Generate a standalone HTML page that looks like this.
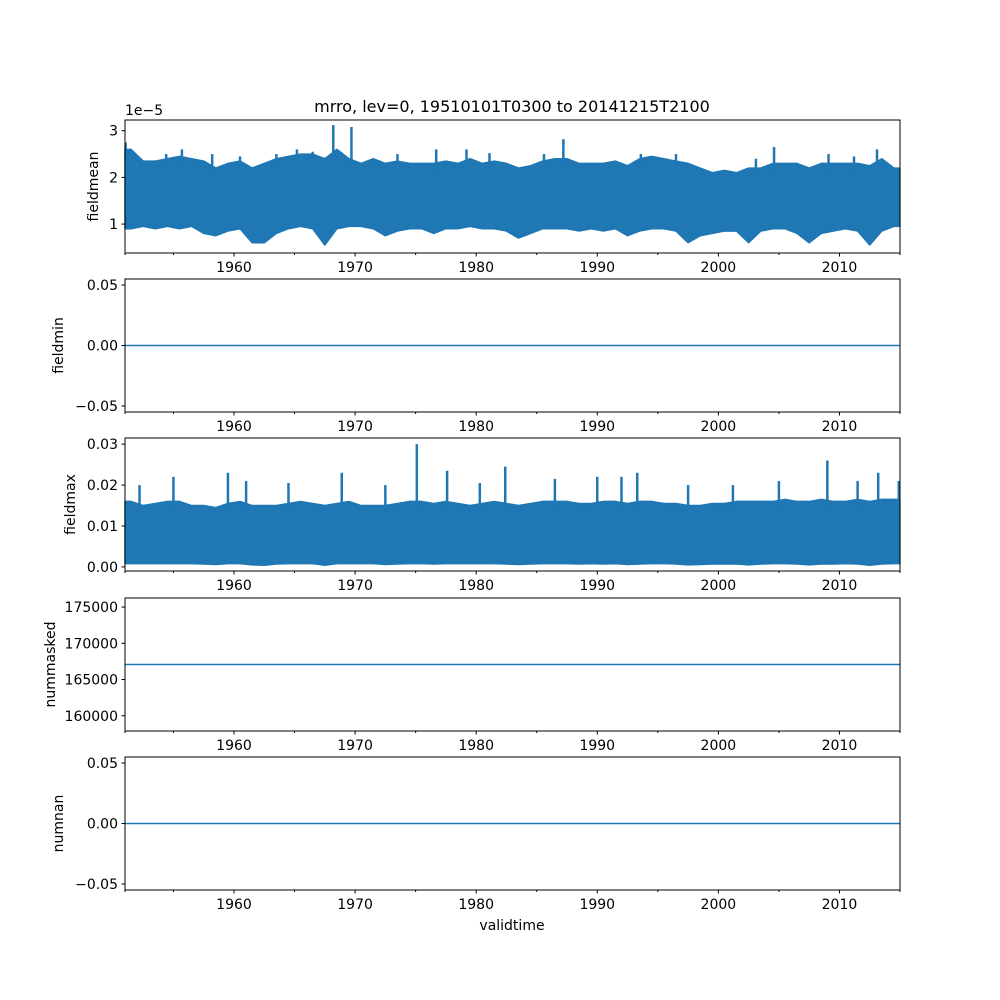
<!DOCTYPE html>
<html><head><meta charset="utf-8"><style>
body{margin:0;background:#fff}
svg{display:block;font-family:"DejaVu Sans","Liberation Sans",sans-serif}
</style></head><body>
<svg id="chart" width="1000" height="1000" viewBox="0 0 1000 1000" xmlns="http://www.w3.org/2000/svg">
<text x="512" y="112" font-size="16" text-anchor="middle">mrro, lev=0, 19510101T0300 to 20141215T2100</text>
<text x="512" y="930" font-size="14" text-anchor="middle">validtime</text>
</svg>
<script>
const years = [];for(let y=1951;y<=2014;y++)years.push(y);
const meanUpper=[2.6,2.35,2.35,2.4,2.45,2.4,2.35,2.2,2.3,2.35,2.2,2.3,2.4,2.45,2.5,2.5,2.4,2.6,2.4,2.3,2.4,2.3,2.35,2.3,2.3,2.3,2.35,2.3,2.4,2.3,2.35,2.3,2.2,2.25,2.35,2.4,2.4,2.3,2.3,2.3,2.35,2.25,2.4,2.45,2.4,2.35,2.3,2.2,2.1,2.15,2.1,2.2,2.2,2.3,2.3,2.3,2.2,2.3,2.3,2.3,2.3,2.25,2.4,2.2];
const meanLower=[0.9,0.95,0.9,0.95,0.9,0.95,0.8,0.75,0.85,0.9,0.6,0.6,0.8,0.9,0.95,0.9,0.55,0.9,0.95,0.95,0.9,0.75,0.85,0.9,0.9,0.8,0.9,0.9,0.95,0.9,0.9,0.85,0.7,0.8,0.9,0.9,0.9,0.85,0.9,0.85,0.9,0.75,0.85,0.9,0.9,0.85,0.6,0.75,0.8,0.85,0.85,0.6,0.85,0.9,0.9,0.8,0.6,0.8,0.85,0.9,0.85,0.55,0.85,0.95];
const meanSpikeX=[1951.05,1954.4,1955.7,1958.2,1960.5,1963.5,1965.2,1966.5,1968.2,1969.7,1973.5,1976.7,1979.2,1981.1,1985.6,1987.2,1993.6,1996.5,2003.1,2004.6,2009.1,2011.2,2013.1];
const meanSpikeY=[2.75,2.5,2.6,2.5,2.45,2.5,2.6,2.55,3.12,3.08,2.5,2.6,2.6,2.52,2.5,2.82,2.5,2.5,2.4,2.65,2.5,2.45,2.6];
const maxUpper=[16,15,15.5,16,16,15,15,14.5,15.5,16,15,15,15,15.5,16,15.5,15,15.5,16,15,15,15,15.5,16,16,15.5,16,15.5,15,15.5,16,15.5,15,15.5,16,16,16,15.5,15.5,16,16,15.5,16,16,15.5,15.5,15,15,15.5,15.5,16,16,16,16,16.5,16,16,16.5,16,16,16.5,16,16.5,16.5];
const maxLower=[0.8,0.8,0.8,0.8,0.8,0.8,0.7,0.6,0.8,0.8,0.5,0.4,0.7,0.8,0.8,0.8,0.4,0.8,0.8,0.8,0.8,0.6,0.7,0.8,0.8,0.7,0.8,0.8,0.8,0.8,0.8,0.7,0.6,0.7,0.8,0.8,0.8,0.7,0.8,0.7,0.8,0.6,0.7,0.8,0.8,0.7,0.5,0.6,0.7,0.7,0.7,0.5,0.7,0.8,0.8,0.7,0.5,0.7,0.7,0.8,0.7,0.4,0.7,0.8];
const maxSpikeX=[1952.2,1955,1959.5,1961,1964.5,1968.9,1972.5,1975.1,1977.6,1980.3,1982.4,1986.5,1990,1992,1993.3,1997.5,2001.2,2005,2009,2011.5,2013.2,2014.9];
const maxSpikeY=[20,22,23,21,20.5,23,20,30,23.5,20.5,24.5,21.5,22,22,23,20,20,21,26,21,23,21];
const fieldminValue=0, nummaskedValue=167083, numnanValue=0;
const xTicks=[1960,1970,1980,1990,2000,2010];
const xMinor=[1955,1965,1975,1985,1995,2005,2015];
const X0=125,X1=900,T0=1951.0,T1=2015.0;
const sx=t=>X0+(t-T0)/(T1-T0)*(X1-X0);
const svg=document.getElementById('chart');
const NS='http://www.w3.org/2000/svg';
function el(tag,attrs,parent){const e=document.createElementNS(NS,tag);for(const k in attrs)e.setAttribute(k,attrs[k]);(parent||svg).appendChild(e);return e;}
const C='#1f77b4';
const panels=[
 {name:'fieldmean',top:120,lo:0.38,hi:3.23,ticks:[1,2,3],labels:['1','2','3'],offset:'1e\u22125'},
 {name:'fieldmin',top:279,lo:-0.055,hi:0.055,ticks:[-0.05,0,0.05],labels:['\u22120.05','0.00','0.05']},
 {name:'fieldmax',top:438,lo:-1,hi:31.5,ticks:[0,10,20,30],labels:['0.00','0.01','0.02','0.03']},
 {name:'nummasked',top:598,lo:157900,hi:176250,ticks:[160000,165000,170000,175000],labels:['160000','165000','170000','175000']},
 {name:'numnan',top:757,lo:-0.055,hi:0.055,ticks:[-0.05,0,0.05],labels:['\u22120.05','0.00','0.05']}
];
const H=133;
panels.forEach((p,pi)=>{
 const g=el('g',{});
 
 
 const sy=v=>p.top+H-(v-p.lo)/(p.hi-p.lo)*H;
 // data
 if(pi===0||pi===2){
  const up=pi===0?meanUpper:maxUpper, lw=pi===0?meanLower:maxLower;
  let pts=[];
  years.forEach((y,i)=>pts.push(sx(y+0.5)+','+sy(up[i])));
  pts.unshift(sx(T0)+','+sy(up[0]));pts.push(sx(2014.99)+','+sy(up[63]));
  let low=[];
  years.forEach((y,i)=>low.push(sx(y+0.5)+','+sy(lw[i])));
  low.unshift(sx(T0)+','+sy(lw[0]));low.push(sx(2014.99)+','+sy(lw[63]));
  const band=el('polygon',{points:pts.concat(low.reverse()).join(' '),fill:C,stroke:C,'stroke-width':1.5,'stroke-linejoin':'round'},g);
  
  
  const spx=pi===0?meanSpikeX:maxSpikeX, spy=pi===0?meanSpikeY:maxSpikeY;
  spx.forEach((t,i)=>{
   const idx=Math.min(63,Math.max(0,Math.floor(t-1951)));
   const s=el('line',{x1:sx(t),x2:sx(t),y1:sy(spy[i]),y2:sy(up[idx]-0.1*(up[idx]-lw[idx])),stroke:C,'stroke-width':2.5},g);
   
   
  });
 } else {
  const v=pi===1?fieldminValue:pi===3?nummaskedValue:numnanValue;
  const l=el('line',{x1:X0,x2:X1,y1:sy(v),y2:sy(v),stroke:C,'stroke-width':1.5},g);
  
  
 }
 // frame
 const r=el('rect',{x:X0,y:p.top,width:X1-X0,height:H,fill:'none',stroke:'#000','stroke-width':1},g);
 
 
 // y ticks
 p.ticks.forEach((v,i)=>{
  const y=sy(v);
  el('line',{x1:X0-3.5,x2:X0,y1:y,y2:y,stroke:'#000'},g);
  const t=el('text',{x:X0-7,y:y+5,'font-size':14,'text-anchor':'end'},g);
  t.textContent=p.labels[i];
  
  
 });
 const yl=el('text',{x:0,y:0,'font-size':14,'text-anchor':'middle',transform:'translate('+(pi===3?55:pi===0?98:pi===2?75:pi===1?63:63)+','+(p.top+H/2)+') rotate(-90)'},g);
 yl.textContent=p.name;
 
 
 if(p.offset){const o=el('text',{x:X0,y:p.top-5,'font-size':14},g);o.textContent=p.offset;
  
  }
 // x ticks
 const yb=p.top+H;
 xTicks.forEach(t=>{
  el('line',{x1:sx(t),x2:sx(t),y1:yb,y2:yb+3.5,stroke:'#000'},g);
  const tx=el('text',{x:sx(t),y:yb+19,'font-size':14,'text-anchor':'middle'},g);
  tx.textContent=t;
  
  
 });
 xMinor.concat([T0]).forEach(t=>{ if(t<=T1) el('line',{x1:sx(t),x2:sx(t),y1:yb,y2:yb+2,stroke:'#000'},g);});
});
</script>
</body></html>
